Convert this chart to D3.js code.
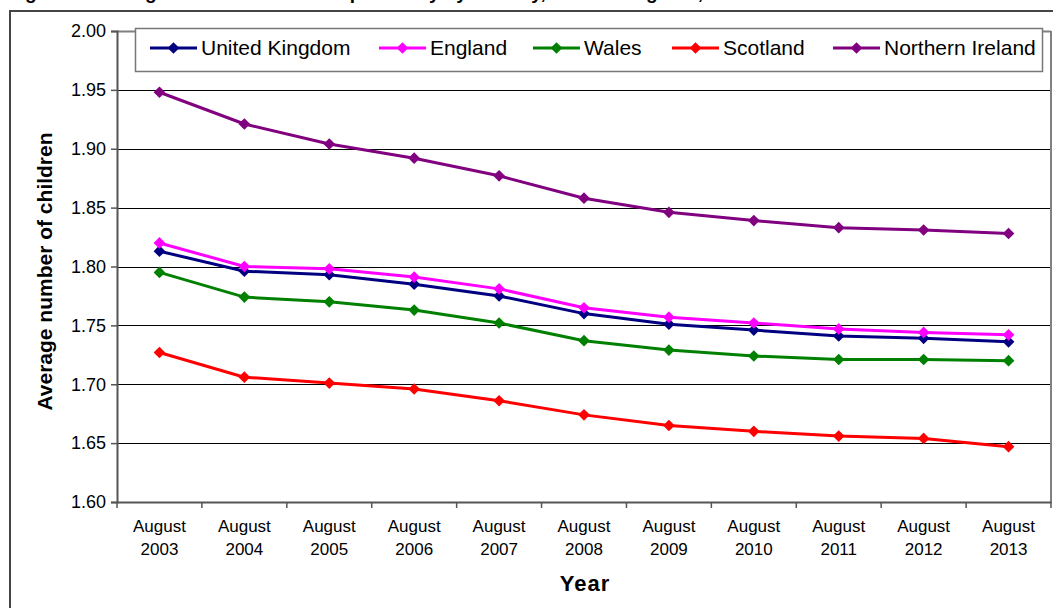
<!DOCTYPE html>
<html><head><meta charset="utf-8">
<script src="https://cdn.jsdelivr.net/npm/d3@7"></script>
<style>body{margin:0;background:#fff}svg{display:block;font-family:Arial,"Liberation Sans",sans-serif}</style>
</head><body>
<script>
const categories = ["August 2003","August 2004","August 2005","August 2006","August 2007","August 2008","August 2009","August 2010","August 2011","August 2012","August 2013"];
const seriesNames = ["United Kingdom","England","Wales","Scotland","Northern Ireland"];
const seriesColors = ["#000080","#ff00ff","#008000","#ff0000","#800080"];
const ukValues = [1.813,1.796,1.793,1.785,1.775,1.760,1.751,1.746,1.741,1.739,1.736];
const englandValues = [1.820,1.800,1.798,1.791,1.781,1.765,1.757,1.752,1.747,1.744,1.742];
const walesValues = [1.795,1.774,1.770,1.763,1.752,1.737,1.729,1.724,1.721,1.721,1.720];
const scotlandValues = [1.727,1.706,1.701,1.696,1.686,1.674,1.665,1.660,1.656,1.654,1.647];
const niValues = [1.948,1.921,1.904,1.892,1.877,1.858,1.846,1.839,1.833,1.831,1.828];
const yTicks = [1.60,1.65,1.70,1.75,1.80,1.85,1.90,1.95,2.00];
const titleText = "Figure 4: Average number of children per family by country, United Kingdom, 2003 to 2013";

const series = [ukValues, englandValues, walesValues, scotlandValues, niValues];
const drawOrder = [4,3,2,0,1];

const W = 1053, H = 608;
const svg = d3.select("body").append("svg").attr("width", W).attr("height", H);
const L = 117, R = 1051, T = 31, B = 502;

const x = d3.scaleBand().domain(categories).range([L, R]).paddingInner(0).paddingOuter(0);
const y = d3.scaleLinear().domain([1.60, 2.00]).range([B, T]);

// title (clipped by the top edge, as in the reference)
svg.append("text").attr("x", 8).attr("y", -1).attr("font-weight", "bold").attr("font-size", 19).text(titleText);

// outer frame
svg.append("line").attr("x1", 10).attr("x2", W).attr("y1", 11).attr("y2", 11).attr("stroke", "#444").attr("stroke-width", 2);
svg.append("line").attr("x1", 10).attr("x2", 10).attr("y1", 10).attr("y2", H).attr("stroke", "#444").attr("stroke-width", 2);

// gridlines
svg.append("g").selectAll("line").data(yTicks.filter(d => d > 1.6 && d < 2.0)).join("line")
  .attr("x1", L).attr("x2", R).attr("y1", d => Math.round(y(d)) + 0.5).attr("y2", d => Math.round(y(d)) + 0.5)
  .attr("stroke", "#000").attr("stroke-width", 1);

// plot border top/right
svg.append("line").attr("x1", L).attr("x2", R).attr("y1", T + 0.5).attr("y2", T + 0.5).attr("stroke", "#808080").attr("stroke-width", 2);
svg.append("line").attr("x1", R).attr("x2", R).attr("y1", T).attr("y2", B).attr("stroke", "#808080").attr("stroke-width", 2);

// y axis
const yAxis = d3.axisLeft(y).tickValues(yTicks).tickFormat(d3.format(".2f")).tickSize(6).tickPadding(5);
const yg = svg.append("g").attr("transform", `translate(${L},0)`).call(yAxis);
yg.select(".domain").attr("stroke", "#555").attr("stroke-width", 2);
yg.selectAll(".tick line").attr("stroke", "#555").attr("stroke-width", 1.5);
yg.selectAll(".tick text").attr("font-size", 18).attr("fill", "#000").attr("font-family", "Arial, 'Liberation Sans', sans-serif");

// x axis
const xAxis = d3.axisBottom(x).tickSize(0).tickFormat("");
const xg = svg.append("g").attr("transform", `translate(0,${B})`).call(xAxis);
xg.select(".domain").attr("stroke", "#555").attr("stroke-width", 2);
svg.append("g").selectAll("line").data(categories.concat(["_end"])).join("line")
  .attr("x1", (d, i) => i < categories.length ? x(d) : x(categories[categories.length-1]) + x.bandwidth())
  .attr("x2", (d, i) => i < categories.length ? x(d) : x(categories[categories.length-1]) + x.bandwidth())
  .attr("y1", B).attr("y2", B + 6).attr("stroke", "#555").attr("stroke-width", 1.5);
const xl = svg.append("g").selectAll("text").data(categories).join("text")
  .attr("x", d => x(d) + x.bandwidth() / 2).attr("text-anchor", "middle").attr("font-size", 17);
xl.append("tspan").attr("x", d => x(d) + x.bandwidth() / 2).attr("y", 532).text(d => d.split(" ")[0]);
xl.append("tspan").attr("x", d => x(d) + x.bandwidth() / 2).attr("y", 555).text(d => d.split(" ")[1]);

// axis titles
svg.append("text").attr("transform", `translate(52,${(T + B) / 2 + 5}) rotate(-90)`).attr("text-anchor", "middle")
  .attr("font-weight", "bold").attr("font-size", 21).text("Average number of children");
svg.append("text").attr("x", 585).attr("y", 591).attr("text-anchor", "middle").attr("font-weight", "bold")
  .attr("font-size", 22).attr("letter-spacing", 1).text("Year");

// lines
const line = d3.line().x((d, i) => x(categories[i]) + x.bandwidth() / 2).y(d => y(d));
const diamond = d3.symbol().type(d3.symbolSquare).size(68);
drawOrder.forEach(si => {
  const g = svg.append("g");
  g.append("path").datum(series[si]).attr("d", line).attr("fill", "none").attr("stroke", seriesColors[si]).attr("stroke-width", 3);
  g.selectAll("path.m").data(series[si]).join("path").attr("class", "m")
    .attr("transform", (d, i) => `translate(${x(categories[i]) + x.bandwidth() / 2},${y(d)}) rotate(45)`)
    .attr("d", diamond).attr("fill", seriesColors[si]);
});

// legend
const lg = svg.append("g");
lg.append("rect").attr("x", 135.5).attr("y", 28.5).attr("width", 907).attr("height", 43).attr("fill", "#fff").attr("stroke", "#777").attr("stroke-width", 1.5);
const legendX = [150, 379, 533, 672, 833];
seriesNames.forEach((n, i) => {
  const gx = legendX[i];
  lg.append("line").attr("x1", gx).attr("x2", gx + 47).attr("y1", 48).attr("y2", 48).attr("stroke", seriesColors[i]).attr("stroke-width", 3);
  lg.append("path").attr("transform", `translate(${gx + 23.5},48) rotate(45)`).attr("d", diamond).attr("fill", seriesColors[i]);
  lg.append("text").attr("x", gx + 51).attr("y", 55).attr("font-size", 21).text(n);
});
</script>
</body></html>
